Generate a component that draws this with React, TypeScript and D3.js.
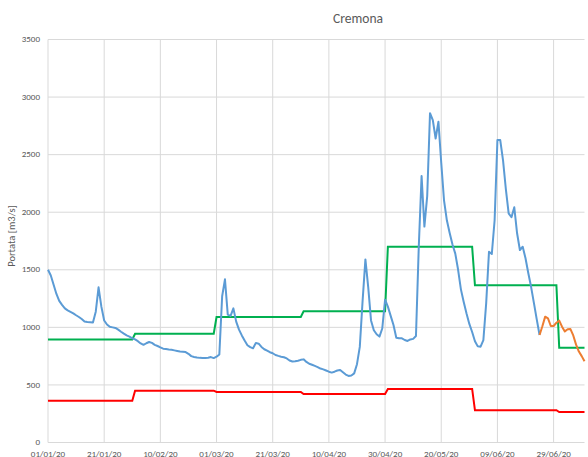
import { useEffect } from "react";
import * as d3 from "d3";

const W = 588;
const H = 457;

// daily discharge, starting 01/01/20 (blue = observed, orange = continuation)
const observed = [
  1500, 1450, 1370, 1290, 1230, 1195, 1165, 1148, 1135, 1122,
  1105, 1090, 1072, 1050, 1046, 1045, 1042, 1136, 1348, 1180,
  1060, 1025, 1005, 1000, 995, 980, 962, 945, 930, 920,
  905, 895, 880, 860, 848, 862, 873, 865, 848, 838,
  826, 815, 812, 808, 805, 800, 795, 790, 788, 785,
  770, 750, 743, 738, 735, 733, 733, 736, 742, 733,
  745, 765, 1270, 1417, 1110, 1100, 1165, 1050, 980, 930,
  885, 845, 828, 818, 865, 858, 830, 810, 798, 784,
  775, 760, 752, 745, 740, 730, 712, 703, 705, 710,
  718, 722, 700, 684, 675, 665, 655, 642, 635, 625,
  615, 607, 615, 625, 630, 610, 590, 578, 582, 600,
  680, 830, 1230, 1590, 1350, 1060, 975, 940, 920, 990,
  1240, 1180, 1100, 1020, 910, 905, 905, 890, 882, 895,
  900, 925, 1700, 2315, 1875, 2140, 2860, 2800, 2640, 2786,
  2430, 2100, 1930, 1820, 1720, 1640, 1500, 1330, 1220, 1120,
  1030, 960, 880, 835, 832, 890, 1210, 1657, 1637, 1930,
  2627, 2627, 2450, 2200, 1990, 1956, 2043, 1817, 1672, 1700,
  1600, 1470, 1350, 1210, 1070, 934,
];
const forecastStart = 175; // day index where the orange line begins
const forecast = [
  934, 1010, 1093, 1078, 1012, 1012, 1040, 1058, 1006, 965,
  983, 985, 930, 850, 790, 750, 705,
];

// monthly thresholds Jan..Jul
const greenMonthly = [895, 945, 1090, 1140, 1700, 1365, 823];
const redMonthly = [363, 450, 439, 421, 465, 280, 265];

const yTicks = [0, 500, 1000, 1500, 2000, 2500, 3000, 3500];

const start = new Date(2020, 0, 1);
const lastDay = 191;
const dayDate = (i: number) => d3.timeDay.offset(start, i);

export default function App() {
  useEffect(() => {
    document.body.style.margin = "0";
  }, []);

  const margin = { top: 39.5, right: 3.5, bottom: 14.5, left: 48 };

  const x = d3
    .scaleTime()
    .domain([start, dayDate(lastDay)])
    .range([margin.left, W - margin.right]);
  const y = d3
    .scaleLinear()
    .domain([0, 3500])
    .range([H - margin.bottom, margin.top]);

  const xTicks = d3.range(0, lastDay, 20).map(dayDate);
  const fmt = d3.timeFormat("%d/%m/%y");

  const line = d3
    .line<[Date, number]>()
    .x((d) => x(d[0]))
    .y((d) => y(d[1]));

  const blue: [Date, number][] = observed.map((v, i) => [dayDate(i), v]);
  const orange: [Date, number][] = forecast.map((v, i) => [dayDate(forecastStart + i), v]);
  const days = d3.range(0, lastDay + 1).map(dayDate);
  const green: [Date, number][] = days.map((d) => [d, greenMonthly[d.getMonth()]]);
  const red: [Date, number][] = days.map((d) => [d, redMonthly[d.getMonth()]]);

  const font = "Carlito, 'Liberation Sans', Arial, sans-serif";

  return (
    <svg width={W} height={H} style={{ display: "block", background: "#fff" }}>
      {yTicks.map((t) => (
        <g key={"y" + t}>
          <line x1={margin.left} x2={W - margin.right} y1={y(t)} y2={y(t)} stroke="#d9d9d9" strokeWidth={1} />
          <text x={40} y={y(t) - 0.5} dy="0.35em" textAnchor="end" fontSize={9} fill="#595959" fontFamily={font}>
            {t}
          </text>
        </g>
      ))}
      {xTicks.map((t, i) => (
        <g key={"x" + i}>
          <line x1={x(t)} x2={x(t)} y1={margin.top} y2={H - margin.bottom} stroke="#d9d9d9" strokeWidth={1} />
          <text x={x(t)} y={456.5} textAnchor="middle" fontSize={9} fill="#595959" fontFamily={font}>
            {fmt(t)}
          </text>
        </g>
      ))}
      <path d={line(red) ?? ""} fill="none" stroke="#ff0000" strokeWidth={2} />
      <path d={line(green) ?? ""} fill="none" stroke="#00b050" strokeWidth={2} />
      <path d={line(blue) ?? ""} fill="none" stroke="#5b9bd5" strokeWidth={2} strokeLinejoin="round" />
      <path d={line(orange) ?? ""} fill="none" stroke="#ed7d31" strokeWidth={2} strokeLinejoin="round" />
      <text x={358} y={23} textAnchor="middle" fontSize={13.5} fill="#595959" fontFamily={font}>
        Cremona
      </text>
      <text
        transform="translate(15,236) rotate(-90)"
        textAnchor="middle"
        fontSize={10.5}
        fill="#595959"
        fontFamily={font}
      >
        Portata [m3/s]
      </text>
    </svg>
  );
}
